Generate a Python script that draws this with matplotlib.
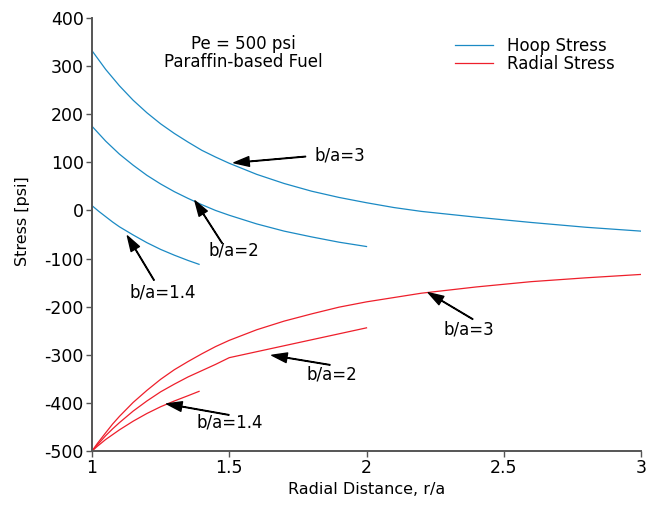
import numpy as np
import matplotlib.pyplot as plt

plt.rcParams["axes.unicode_minus"] = False

# hoop stress
x_h3 = [1.0, 1.05, 1.1, 1.15, 1.2, 1.25, 1.3, 1.35, 1.4, 1.45, 1.5, 1.6, 1.7, 1.8, 1.9, 2.0,
        2.1, 2.2, 2.4, 2.6, 2.8, 3.0]
y_h3 = [332, 293, 259, 229, 203, 180, 160, 142, 125, 111, 98, 75, 56, 40, 27, 16,
        6, -2, -14, -25, -35, -43]
x_h2 = [1.0, 1.05, 1.1, 1.15, 1.2, 1.25, 1.3, 1.35, 1.4, 1.45, 1.5, 1.6, 1.7, 1.8, 1.9, 2.0]
y_h2 = [175, 144, 117, 94, 73, 55, 39, 25, 12, 0, -10, -28, -43, -55, -66, -75]
x_h14 = [1.0, 1.025, 1.05, 1.075, 1.1, 1.15, 1.2, 1.25, 1.3, 1.35, 1.39]
y_h14 = [10, -2, -13, -24, -34, -51, -67, -81, -93, -104, -112]

# radial stress
x_r3 = [1.0, 1.02, 1.05, 1.075, 1.1, 1.15, 1.2, 1.25, 1.3, 1.35, 1.4, 1.45, 1.5, 1.6, 1.7,
        1.8, 1.9, 2.0, 2.2, 2.4, 2.6, 2.8, 3.0]
y_r3 = [-500, -484, -462, -444, -428, -399, -374, -351, -331, -314, -298, -283, -270, -248, -230,
        -215, -201, -190, -172, -159, -148, -140, -133]
x_r2 = [1.0, 1.02, 1.05, 1.075, 1.1, 1.15, 1.2, 1.25, 1.3, 1.35, 1.4, 1.45, 1.5, 1.75, 2.0]
y_r2 = [-500, -487, -468, -454, -441, -417, -396, -377, -361, -346, -333, -320, -306, -275, -244]
x_r14 = [1.0, 1.02, 1.05, 1.075, 1.1, 1.15, 1.2, 1.25, 1.3, 1.35, 1.39]
y_r14 = [-500, -490, -476, -466, -456, -438, -422, -408, -396, -385, -376]

blue = "#1b8ac4"
red = "#ee1f2b"
gray = "#555555"

fig = plt.figure(figsize=(6.46, 5.05), dpi=100)
ax = fig.add_axes([0.1424, 0.1069, 0.8499, 0.8575])

ax.plot(x_h3, y_h3, color=blue, lw=0.9, label="Hoop Stress")
ax.plot(x_h2, y_h2, color=blue, lw=0.9)
ax.plot(x_h14, y_h14, color=blue, lw=0.9)
ax.plot(x_r3, y_r3, color=red, lw=0.9, label="Radial Stress")
ax.plot(x_r2, y_r2, color=red, lw=0.9)
ax.plot(x_r14, y_r14, color=red, lw=0.9)

ax.set_xlim(1, 3)
ax.set_ylim(-500, 400)
ax.set_xticks([1, 1.5, 2, 2.5, 3])
ax.set_xticklabels(["1", "1.5", "2", "2.5", "3"])
ax.set_yticks(np.arange(-500, 401, 100))

for s in ["top", "right"]:
    ax.spines[s].set_visible(False)
for s in ["left", "bottom"]:
    ax.spines[s].set_color(gray)
    ax.spines[s].set_linewidth(1.4)
ax.tick_params(direction="out", length=4, width=1, color=gray, labelsize=12.5, pad=2)

ax.set_xlabel("Radial Distance, r/a", fontsize=11.5, labelpad=3)
ax.set_ylabel("Stress [psi]", fontsize=11.5)
ax.yaxis.set_label_coords(-0.112, 0.53)

ax.text(1.55, 346, "Pe = 500 psi", ha="center", va="center", fontsize=12)
ax.text(1.55, 309, "Paraffin-based Fuel", ha="center", va="center", fontsize=12)

# arrows: (text, text pos, tip, tail)
notes = [
    ("b/a=3", (1.812, 115), (1.517, 99), (1.778, 112)),
    ("b/a=2", (1.426, -83), (1.375, 20), (1.474, -68)),
    ("b/a=1.4", (1.138, -171), (1.129, -53), (1.226, -145)),
    ("b/a=3", (2.279, -248), (2.225, -171), (2.387, -226)),
    ("b/a=2", (1.783, -342), (1.655, -301), (1.867, -321)),
    ("b/a=1.4", (1.379, -441), (1.272, -402), (1.499, -425)),
]
for txt, tpos, tip, tail in notes:
    ax.annotate("", xy=tip, xytext=tail,
                arrowprops=dict(facecolor="k", edgecolor="k", width=0.4, headwidth=7, headlength=11, shrink=0))
    ax.text(tpos[0], tpos[1], txt, ha="left", va="center", fontsize=12)

ax.legend(loc="upper left", bbox_to_anchor=(0.661, 0.957), frameon=False, fontsize=12,
          handlelength=2.3, handletextpad=0.85, labelspacing=0.0, borderpad=0, borderaxespad=0)

plt.savefig("out.png", dpi=100)
